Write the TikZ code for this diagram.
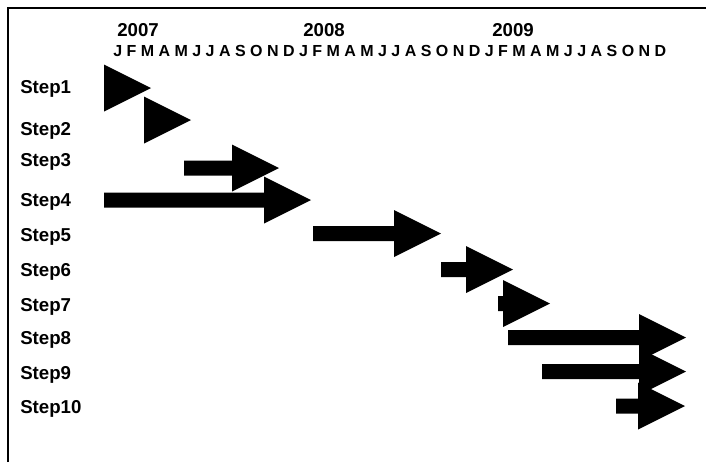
\documentclass[tikz,border=0pt]{standalone}
\usepackage{fontspec}
\setmainfont{Liberation Sans}
\usetikzlibrary{positioning}

% one bar of the chart: shaft start, head start, row
\newcommand{\ganttarrow}[3]{%
	\fill (#1,#3-7.5) -- (#2,#3-7.5) -- (#2,#3-23.5) -- (#2+47,#3) -- (#2,#3+23.5) -- (#2,#3+7.5) -- (#1,#3+7.5) -- cycle;}

\begin{document}
\begin{tikzpicture}[x=0.75pt,y=-0.75pt,
		steplabel/.style={anchor=base west,inner sep=0pt,font=\fontsize{14}{16}\selectfont\bfseries},
		yearlabel/.style={anchor=base west,inner sep=0pt,font=\fontsize{14}{16}\selectfont\bfseries},
		monthlabel/.style={anchor=base west,inner sep=0pt,font=\fontsize{12}{14}\selectfont\bfseries}]
		\useasboundingbox (0,0) rectangle (706,462);
		\draw[line width=1.6pt] (8,462) -- (8,8) -- (706,8);
		
		\node[yearlabel] (y7) at (117,36) {2007};
		\node[yearlabel] (y8) at (303,36) {2008};
		\node[yearlabel] (y9) at (492,36) {2009};
		\node[monthlabel] (months) at (113,56.7) {J F M A M J J A S O N D J F M A M J J A S O N D J F M A M J J A S O N D};
		
		\node[steplabel] (s1) at (20,93) {Step1};
		\node[steplabel] (s2) at (20,135) {Step2};
		\node[steplabel] (s3) at (20,166) {Step3};
		\node[steplabel] (s4) at (20,206) {Step4};
		\node[steplabel] (s5) at (20,241) {Step5};
		\node[steplabel] (s6) at (20,276) {Step6};
		\node[steplabel] (s7) at (20,311) {Step7};
		\node[steplabel] (s8) at (20,344) {Step8};
		\node[steplabel] (s9) at (20,379) {Step9};
		\node[steplabel] (s10) at (20,413) {Step10};
		
		\ganttarrow{104}{104}{88}
		\ganttarrow{144}{144}{120}
		\ganttarrow{184}{232}{168}
		\ganttarrow{104}{264}{200}
		\ganttarrow{313}{394}{233.5}
		\ganttarrow{441}{466}{269.5}
		\ganttarrow{498}{503}{303.5}
		\ganttarrow{508}{639}{337.5}
		\ganttarrow{542}{639}{371.5}
		\ganttarrow{616}{638}{406}
\end{tikzpicture}
\end{document}
